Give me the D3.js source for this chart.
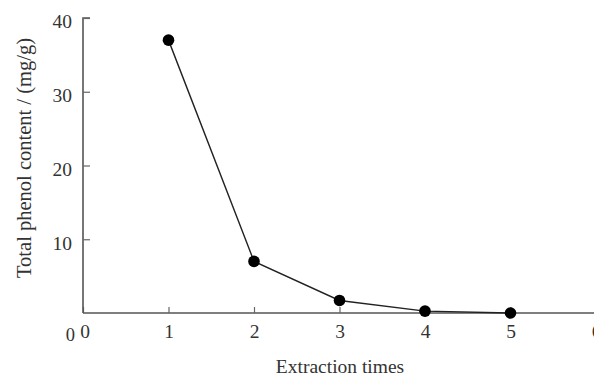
<!DOCTYPE html>
<html>
<head>
<meta charset="utf-8">
<script src="https://cdn.jsdelivr.net/npm/d3@7"></script>
<style>
  body { margin: 0; background: #fff; }
  svg { display: block; }
  text { font-family: "Liberation Serif", "Times New Roman", serif; fill: #333; }
</style>
</head>
<body>
<svg id="chart" width="594" height="376"></svg>
<script>
const extractionTimes = [1, 2, 3, 4, 5];
const phenolContent = [37.0, 7.0, 1.7, 0.25, 0.0];
const xTickValues = [0, 1, 2, 3, 4, 5, 6];
const yTickValues = [10, 20, 30, 40];
const xTitle = "Extraction times";
const yTitle = "Total phenol content / (mg/g)";

const svg = d3.select("#chart");
const x = d3.scaleLinear().domain([0, 6]).range([83, 596]);
const y = d3.scaleLinear().domain([0, 40]).range([313, 18]);

// x axis
const xAxis = svg.append("g").attr("transform", "translate(0,313)")
  .call(d3.axisBottom(x).tickValues(xTickValues).tickSize(-6).tickPadding(11).tickFormat(d3.format("d")));
xAxis.select(".domain").attr("d", "M83,0H594").attr("stroke", "#555").attr("stroke-width", 1.6);
xAxis.selectAll(".tick line").attr("stroke", "#666").attr("stroke-width", 1.2);
xAxis.selectAll(".tick text").attr("font-size", 19.5).attr("fill", "#333")
  .style("font-family", "'Liberation Serif', serif")
  .attr("dx", d => d === 0 ? 1.5 : 0);

// y axis
const yAxis = svg.append("g").attr("transform", "translate(83,0)")
  .call(d3.axisLeft(y).tickValues(yTickValues).tickSize(-7).tickPadding(11).tickFormat(d3.format("d")));
yAxis.select(".domain").attr("d", "M0,313V18H7").attr("stroke", "#555").attr("stroke-width", 1.6);
yAxis.selectAll(".tick line").attr("stroke", "#666").attr("stroke-width", 1.2);
yAxis.selectAll(".tick text").attr("font-size", 19.5).attr("fill", "#333")
  .attr("dy", "0.5em")
  .style("font-family", "'Liberation Serif', serif");

// y-axis zero label (placed below-left of origin as in original)
svg.append("text").attr("x", 75).attr("y", y(0) + 28).attr("text-anchor", "end")
  .attr("font-size", 18.5).text("0");

// line
const line = d3.line().x((d, i) => x(extractionTimes[i])).y(d => y(d));
svg.append("path").datum(phenolContent).attr("d", line)
  .attr("fill", "none").attr("stroke", "#222").attr("stroke-width", 1.4);

// points
svg.selectAll("circle.pt").data(phenolContent).enter().append("circle")
  .attr("class", "pt")
  .attr("cx", (d, i) => x(extractionTimes[i]))
  .attr("cy", d => y(d))
  .attr("r", 5.8)
  .attr("fill", "#000");

// titles
svg.append("text").attr("x", 340).attr("y", 373).attr("text-anchor", "middle")
  .attr("font-size", 19.5).text(xTitle);
svg.append("text").attr("transform", "translate(31,158) rotate(-90)").attr("text-anchor", "middle")
  .attr("font-size", 20.5).text(yTitle);
</script>
</body>
</html>
